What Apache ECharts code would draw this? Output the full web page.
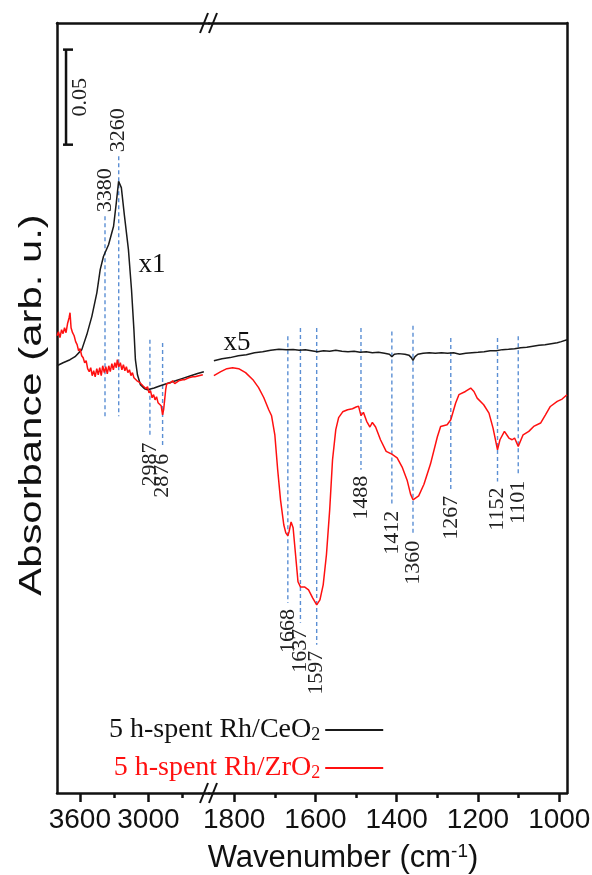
<!DOCTYPE html>
<html>
<head>
<meta charset="utf-8">
<script src="https://cdn.jsdelivr.net/npm/echarts@6/dist/echarts.min.js"></script>
<style>
  html, body { margin: 0; padding: 0; background: #fff; }
  #chart { width: 592px; height: 875px; }
</style>
</head>
<body>
<div id="chart"></div>
<script>
// ---- Spectra: [wavenumber (cm-1), absorbance (offset, arb.)] ----
// Rh/CeO2, high-wavenumber window (x1)
const ceHigh = [
  [3800, 0.2247], [3747, 0.2263], [3686, 0.2279], [3642, 0.2295], [3583, 0.2332],
  [3539, 0.2411], [3495, 0.2507], [3451, 0.2632], [3422, 0.2753], [3393, 0.2823],
  [3349, 0.2884], [3305, 0.2981], [3281, 0.3105], [3261, 0.3217], [3237, 0.3184],
  [3210, 0.3037], [3175, 0.2858], [3148, 0.2647], [3127, 0.2437], [3114, 0.2279],
  [3096, 0.2200], [3070, 0.2147], [3034, 0.2126], [3008, 0.2121], [2950, 0.2130],
  [2896, 0.2142], [2830, 0.2155], [2762, 0.2168], [2700, 0.2181], [2630, 0.2195],
  [2570, 0.2206], [2515, 0.2216]
];
// Rh/CeO2, fingerprint window (x5)
const ceLow = [
  [1850, 0.2274], [1830, 0.2284], [1810, 0.2290], [1790, 0.2300], [1770, 0.2305],
  [1750, 0.2316], [1730, 0.2321], [1710, 0.2329], [1690, 0.2334], [1672, 0.2331],
  [1655, 0.2333], [1640, 0.2329], [1625, 0.2331], [1610, 0.2326], [1595, 0.2321],
  [1580, 0.2326], [1565, 0.2324], [1550, 0.2329], [1535, 0.2324], [1520, 0.2321],
  [1505, 0.2324], [1490, 0.2318], [1475, 0.2321], [1460, 0.2316], [1445, 0.2318],
  [1430, 0.2313], [1418, 0.2308], [1412, 0.2295], [1406, 0.2308], [1395, 0.2311],
  [1380, 0.2308], [1370, 0.2303], [1364, 0.2290], [1360, 0.2276], [1355, 0.2295],
  [1348, 0.2308], [1335, 0.2313], [1320, 0.2316], [1305, 0.2313], [1290, 0.2316],
  [1275, 0.2313], [1260, 0.2316], [1245, 0.2308], [1230, 0.2313], [1215, 0.2316],
  [1200, 0.2318], [1185, 0.2321], [1170, 0.2326], [1155, 0.2326], [1140, 0.2332],
  [1125, 0.2334], [1110, 0.2337], [1095, 0.2342], [1080, 0.2345], [1065, 0.2350],
  [1050, 0.2355], [1035, 0.2358], [1020, 0.2363], [1005, 0.2368], [995, 0.2374],
  [981, 0.2384]
];
// Rh/ZrO2, high-wavenumber window
const zrHigh = [
  [3800, 0.2405], [3787, 0.2426], [3774, 0.2395], [3760, 0.2437], [3747, 0.2416],
  [3734, 0.2447], [3721, 0.2421], [3708, 0.2468], [3694, 0.2500], [3686, 0.2526],
  [3677, 0.2447], [3664, 0.2421], [3650, 0.2405], [3637, 0.2374], [3624, 0.2358],
  [3611, 0.2326], [3598, 0.2337], [3584, 0.2300], [3571, 0.2289], [3558, 0.2263],
  [3545, 0.2274], [3532, 0.2232], [3518, 0.2216], [3505, 0.2237], [3492, 0.2195],
  [3479, 0.2221], [3466, 0.2189], [3452, 0.2232], [3439, 0.2200], [3426, 0.2237],
  [3413, 0.2195], [3400, 0.2247], [3386, 0.2211], [3373, 0.2242], [3360, 0.2205],
  [3347, 0.2247], [3334, 0.2216], [3320, 0.2258], [3307, 0.2226], [3294, 0.2263],
  [3281, 0.2237], [3272, 0.2279], [3259, 0.2242], [3246, 0.2263], [3232, 0.2226],
  [3219, 0.2253], [3206, 0.2221], [3193, 0.2242], [3180, 0.2211], [3166, 0.2226],
  [3153, 0.2195], [3140, 0.2211], [3127, 0.2184], [3114, 0.2189], [3100, 0.2168],
  [3087, 0.2174], [3074, 0.2158], [3061, 0.2163], [3048, 0.2142], [3034, 0.2147],
  [3021, 0.2126], [3008, 0.2137], [2995, 0.2105], [2982, 0.2116], [2968, 0.2079],
  [2955, 0.2095], [2942, 0.2068], [2929, 0.2084], [2916, 0.2053], [2902, 0.2063],
  [2889, 0.2037], [2882, 0.2011], [2876, 0.1989], [2867, 0.2016], [2858, 0.2068],
  [2849, 0.2121], [2840, 0.2153], [2823, 0.2163], [2806, 0.2158], [2788, 0.2168],
  [2770, 0.2153], [2753, 0.2163], [2735, 0.2168], [2718, 0.2163], [2700, 0.2174],
  [2682, 0.2174], [2665, 0.2179], [2647, 0.2184], [2630, 0.2184], [2612, 0.2189],
  [2594, 0.2189], [2577, 0.2195], [2559, 0.2195], [2542, 0.2200], [2524, 0.2200]
];
// Rh/ZrO2, fingerprint window
const zrLow = [
  [1850, 0.2195], [1833, 0.2216], [1818, 0.2232], [1804, 0.2237], [1789, 0.2232],
  [1772, 0.2211], [1754, 0.2174], [1740, 0.2132], [1727, 0.2079], [1715, 0.2016],
  [1708, 0.1984], [1700, 0.1884], [1693, 0.1700], [1686, 0.1542], [1678, 0.1411],
  [1673, 0.1368], [1668, 0.1353], [1665, 0.1374], [1660, 0.1426], [1655, 0.1395],
  [1649, 0.1253], [1643, 0.1111], [1637, 0.1084], [1627, 0.1084], [1617, 0.1068],
  [1607, 0.1026], [1597, 0.0989], [1589, 0.1016], [1581, 0.1095], [1573, 0.1253],
  [1565, 0.1489], [1558, 0.1753], [1550, 0.1911], [1543, 0.1974], [1533, 0.2005],
  [1521, 0.2016], [1509, 0.2021], [1500, 0.2030], [1494, 0.2035], [1488, 0.1985],
  [1482, 0.2002], [1474, 0.1955], [1466, 0.1925], [1460, 0.1949], [1452, 0.1925],
  [1440, 0.1858], [1426, 0.1797], [1412, 0.1782], [1399, 0.1763], [1386, 0.1711],
  [1374, 0.1642], [1366, 0.1572], [1360, 0.1542], [1346, 0.1563], [1333, 0.1624],
  [1317, 0.1730], [1300, 0.1874], [1292, 0.1928], [1276, 0.1937], [1267, 0.1963],
  [1255, 0.2051], [1247, 0.2095], [1231, 0.2112], [1218, 0.2130], [1210, 0.2112],
  [1202, 0.2077], [1186, 0.2042], [1173, 0.1998], [1163, 0.1919], [1152, 0.1805],
  [1146, 0.1858], [1135, 0.1902], [1124, 0.1867], [1116, 0.1858], [1110, 0.1867],
  [1101, 0.1823], [1089, 0.1884], [1075, 0.1902], [1063, 0.1928], [1046, 0.1946],
  [1034, 0.1989], [1022, 0.2033], [1005, 0.2060], [993, 0.2072], [981, 0.2095]
];

// ---- Band assignments (dashed guides): wavenumber, guide top/bottom (absorbance) ----
const highBands       = [3380, 3260, 2987, 2876];
const highBandTop     = [0.3033, 0.3349, 0.2384, 0.2367];
const highBandBottom  = [0.1981, 0.1981, 0.1875, 0.1816];
const highBandAbove   = [1, 1, 0, 0];
const lowBands        = [1668, 1637, 1597, 1488, 1412, 1360, 1267, 1152, 1101];
const lowBandTop      = [0.2402, 0.2446, 0.2446, 0.2446, 0.2428, 0.2458, 0.2393, 0.2393, 0.2402];
const lowBandBottom   = [0.1000, 0.0895, 0.0780, 0.1700, 0.1516, 0.1358, 0.1595, 0.1638, 0.1674];
const lowBandAbove    = [0, 0, 0, 0, 0, 0, 0, 0, 0];

// ---- Axis ranges and ticks ----
const highRange = [2470, 3800];
const lowRange = [981, 1862];
const highLabels = [3600, 3000];
const highMinor = [3300, 2700];
const lowLabels = [1800, 1600, 1400, 1200, 1000];
const lowMinor = [1700, 1500, 1300, 1100];
const absRange = [0, 0.405];

// Scale bar and multiplier notes
const scaleBarX = 3721;
const scaleBarBase = 0.341;
const scaleBarValue = 0.05;
const highFactor = { text: 'x1', at: [2969, 0.2779] };
const lowFactor = { text: 'x5', at: [1793, 0.2368] };

const ceName = '5 h-spent Rh/CeO2';
const zrName = '5 h-spent Rh/ZrO2';

// ---- Layout ----
const G = { top: 23, bottom: 793, left: 57, brk: 209, right: 567 };
const INK = '#111';
const GUIDE = '#5b8fd4';
const SERIF = '"Liberation Serif", "Times New Roman", serif';
const SANS = '"Liberation Sans", Arial, sans-serif';

const chart = echarts.init(document.getElementById('chart'), null, { renderer: 'canvas' });

function xAxes(gridIndex, range, labels, minor) {
  const base = {
    gridIndex, type: 'value', min: range[0], max: range[1], inverse: true,
    splitLine: { show: false },
    axisLine: { onZero: false, lineStyle: { color: INK, width: 2.5 } }
  };
  return [
    Object.assign({}, base, {
      position: 'bottom',
      axisTick: { show: true, customValues: labels, length: 9, lineStyle: { color: INK, width: 2.5 } },
      axisLabel: { show: true, customValues: labels, margin: 13, color: '#111',
        fontFamily: SANS, fontSize: 28, hideOverlap: false,
        showMinLabel: true, showMaxLabel: true,
        formatter: (v) => String(v) }
    }),
    Object.assign({}, base, {
      position: 'bottom',
      axisLine: { show: false },
      axisTick: { show: true, customValues: minor, length: 5, lineStyle: { color: INK, width: 2.5 } },
      axisLabel: { show: false }
    }),
    Object.assign({}, base, {
      position: 'top',
      axisTick: { show: false },
      axisLabel: { show: false }
    })
  ];
}

function bandSeries(xAxisIndex, yAxisIndex, bands, top, bottom, above) {
  return {
    type: 'custom',
    xAxisIndex, yAxisIndex,
    silent: true, z: 1,
    data: bands.map((w, i) => [w, top[i], bottom[i], above[i]]),
    encode: { x: 0, y: [1, 2] },
    renderItem(params, api) {
      const p1 = api.coord([api.value(0), api.value(1)]);
      const p2 = api.coord([api.value(0), api.value(2)]);
      const up = api.value(3) === 1;
      return {
        type: 'group',
        children: [
          { type: 'line', shape: { x1: p1[0], y1: p1[1], x2: p2[0], y2: p2[1] },
            style: { stroke: GUIDE, lineWidth: 1.4, lineDash: [4, 3] } },
          { type: 'text',
            x: up ? p1[0] : p2[0], y: up ? p1[1] - 4 : p2[1] + 6,
            rotation: Math.PI / 2,
            style: { text: String(api.value(0)), fontFamily: SERIF, fontSize: 22,
              fill: '#222', align: up ? 'left' : 'right', verticalAlign: 'middle' } }
        ]
      };
    }
  };
}

function factorSeries(xAxisIndex, yAxisIndex, note) {
  return {
    type: 'custom', xAxisIndex, yAxisIndex, silent: true, z: 4,
    data: [note.at],
    encode: { x: 0, y: 1 },
    renderItem(params, api) {
      const p = api.coord([api.value(0), api.value(1)]);
      return { type: 'text', x: p[0], y: p[1],
        style: { text: note.text, fontFamily: SERIF, fontSize: 27, fill: '#111',
          align: 'center', verticalAlign: 'middle' } };
    }
  };
}

const gridBase = { height: G.bottom - G.top, top: G.top, containLabel: false, outerBoundsMode: 'none' };

const option = {
  animation: false,
  backgroundColor: '#fff',
  grid: [
    Object.assign({ left: G.left, width: G.brk - G.left }, gridBase),
    Object.assign({ left: G.brk, width: G.right - G.brk }, gridBase)
  ],
  xAxis: [].concat(
    xAxes(0, highRange, highLabels, highMinor),
    xAxes(1, lowRange, lowLabels, lowMinor)
  ),
  yAxis: [
    { gridIndex: 0, type: 'value', min: absRange[0], max: absRange[1], position: 'left',
      splitLine: { show: false }, axisTick: { show: false }, axisLabel: { show: false },
      axisLine: { show: true, onZero: false, lineStyle: { color: INK, width: 2.5 } } },
    { gridIndex: 1, type: 'value', min: absRange[0], max: absRange[1], position: 'right',
      splitLine: { show: false }, axisTick: { show: false }, axisLabel: { show: false },
      axisLine: { show: true, onZero: false, lineStyle: { color: INK, width: 2.5 } } }
  ],
  legend: {
    orient: 'vertical', left: 104, top: 711, align: 'right',
    itemWidth: 58, itemHeight: 2, itemGap: 10, icon: 'rect',
    selectedMode: false,
    formatter: (name) => name.replace(/O2$/, 'O{sub|2}'),
    textStyle: { fontFamily: SERIF, fontSize: 28,
      rich: { sub: { fontFamily: SERIF, fontSize: 18, verticalAlign: 'bottom' } } },
    data: [
      { name: ceName, textStyle: { color: '#111', rich: { sub: { color: '#111', fontFamily: SERIF, fontSize: 18, verticalAlign: 'bottom' } } } },
      { name: zrName, textStyle: { color: '#ff1010', rich: { sub: { color: '#ff1010', fontFamily: SERIF, fontSize: 18, verticalAlign: 'bottom' } } } }
    ]
  },
  series: [
    bandSeries(0, 0, highBands, highBandTop, highBandBottom, highBandAbove),
    bandSeries(3, 1, lowBands, lowBandTop, lowBandBottom, lowBandAbove),
    { name: ceName, type: 'line', xAxisIndex: 0, yAxisIndex: 0, data: ceHigh,
      color: '#1a1a1a', showSymbol: false, lineStyle: { width: 1.5, color: '#1a1a1a' }, z: 3 },
    { name: ceName, type: 'line', xAxisIndex: 3, yAxisIndex: 1, data: ceLow,
      color: '#1a1a1a', showSymbol: false, lineStyle: { width: 1.5, color: '#1a1a1a' }, z: 3 },
    { name: zrName, type: 'line', xAxisIndex: 0, yAxisIndex: 0, data: zrHigh,
      color: '#ff1010', showSymbol: false, lineStyle: { width: 1.5, color: '#ff1010' }, z: 3 },
    { name: zrName, type: 'line', xAxisIndex: 3, yAxisIndex: 1, data: zrLow,
      color: '#ff1010', showSymbol: false, lineStyle: { width: 1.5, color: '#ff1010' }, z: 3 },
    factorSeries(0, 0, highFactor),
    factorSeries(3, 1, lowFactor),
    {
      // 0.05 absorbance scale bar
      type: 'custom', xAxisIndex: 0, yAxisIndex: 0, silent: true, z: 4,
      data: [[scaleBarX, scaleBarBase, scaleBarBase + scaleBarValue]],
      encode: { x: 0, y: [1, 2] },
      renderItem(params, api) {
        const a = api.coord([api.value(0), api.value(1)]);
        const b = api.coord([api.value(0), api.value(2)]);
        const s = { stroke: INK, lineWidth: 2.5 };
        return {
          type: 'group',
          children: [
            { type: 'line', shape: { x1: a[0], y1: a[1], x2: b[0], y2: b[1] }, style: s },
            { type: 'line', shape: { x1: a[0] - 3, y1: a[1], x2: a[0] + 7, y2: a[1] }, style: s },
            { type: 'line', shape: { x1: b[0] - 3, y1: b[1], x2: b[0] + 7, y2: b[1] }, style: s },
            { type: 'text', x: a[0] + 14, y: (a[1] + b[1]) / 2, rotation: Math.PI / 2,
              style: { text: String(scaleBarValue), fontFamily: SERIF, fontSize: 22,
                fill: '#222', align: 'center', verticalAlign: 'middle' } }
          ]
        };
      }
    }
  ],
  graphic: []
};

// Axis-break marks on the top and bottom frame lines
function breakMark(y) {
  return {
    type: 'group', x: G.brk, y: y, z: 100,
    children: [
      { type: 'polygon', shape: { points: [[-9, 10], [-1, -10], [8, -10], [0, 10]] },
        style: { fill: '#fff' } },
      { type: 'line', shape: { x1: -9, y1: 10, x2: -1, y2: -10 }, style: { stroke: INK, lineWidth: 2 } },
      { type: 'line', shape: { x1: 0, y1: 10, x2: 8, y2: -10 }, style: { stroke: INK, lineWidth: 2 } }
    ]
  };
}
option.graphic.push(breakMark(G.top), breakMark(G.bottom));

// Axis titles
option.graphic.push({
  type: 'text', x: 343, y: 858, z: 100,
  style: {
    text: 'Wavenumber (cm{sup|-1})',
    fontFamily: SANS, fontSize: 31, fill: '#111', align: 'center', verticalAlign: 'middle',
    rich: { sup: { fontFamily: SANS, fontSize: 19, fill: '#111', verticalAlign: 'top' } }
  }
});
option.graphic.push({
  type: 'text', x: 32, y: 405, z: 100,
  rotation: Math.PI / 2, scaleX: 1.35,
  style: {
    text: 'Absorbance (arb. u.)',
    fontFamily: SANS, fontSize: 31, fill: '#111', align: 'center', verticalAlign: 'middle'
  }
});

chart.setOption(option);
</script>
</body>
</html>
